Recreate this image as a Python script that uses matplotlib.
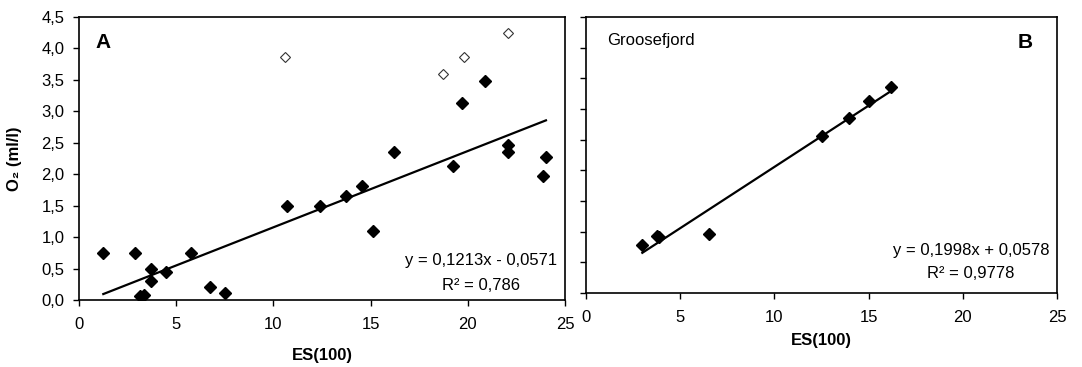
import matplotlib
matplotlib.use("Agg")
import matplotlib.pyplot as plt
import numpy as np

plt.rcParams['font.family'] = ['Liberation Sans', 'DejaVu Sans']
plt.rcParams['font.size'] = 12

# Panel A data
a_x = [1.25, 2.9, 3.69, 3.69, 3.14, 3.34, 4.48, 5.76, 6.74, 7.5,
       10.68, 12.4, 13.73, 14.56, 15.1, 16.2, 19.22, 19.72, 20.88,
       22.08, 22.08, 23.85, 24.02]
a_y = [0.74, 0.74, 0.50, 0.31, 0.06, 0.08, 0.44, 0.74, 0.20, 0.11,
       1.49, 1.49, 1.66, 1.81, 1.10, 2.36, 2.13, 3.14, 3.49,
       2.46, 2.36, 1.97, 2.28]
a_open_x = [10.6, 18.74, 19.8, 22.08]
a_open_y = [3.86, 3.59, 3.86, 4.25]
a_fit = [0.1213, -0.0571]
a_eq = "y = 0,1213x - 0,0571"
a_r2 = "R² = 0,786"

# Panel B data (Groosefjord)
b_x = [2.99, 3.75, 3.9, 6.53, 12.5, 13.97, 15.0, 16.2]
b_y = [0.78, 0.93, 0.91, 0.97, 2.56, 2.85, 3.13, 3.36]
b_fit = [0.1998, 0.0578]
b_eq = "y = 0,1998x + 0,0578"
b_r2 = "R² = 0,9778"

x_ticks = [0, 5, 10, 15, 20, 25]
y_ticks = [0.0, 0.5, 1.0, 1.5, 2.0, 2.5, 3.0, 3.5, 4.0, 4.5]
y_ticklabels = ["0,0", "0,5", "1,0", "1,5", "2,0", "2,5", "3,0", "3,5", "4,0", "4,5"]

W, H = 1082, 367
fig = plt.figure(figsize=(W / 100, H / 100), dpi=100)

def box(l, r, t, b):
    return [l / W, 1 - b / H, (r - l) / W, (b - t) / H]

axA = fig.add_axes(box(79, 565, 17, 300))
axB = fig.add_axes(box(586, 1057, 17, 293))

for ax in (axA, axB):
    ax.set_xlim(0, 25)
    ax.set_ylim(0, 4.5)
    ax.set_xticks(x_ticks)
    ax.set_yticks(y_ticks)
    ax.tick_params(direction='out', length=4.5, width=1, color='black',
                   labelsize=12, top=False, right=False)
    ax.tick_params(axis='x', pad=8)
    ax.tick_params(axis='y', pad=6)
    for s in ax.spines.values():
        s.set_linewidth(1.2)
        s.set_color('black')
    ax.set_xlabel("ES(100)", fontweight='bold', fontsize=12)

axA.set_yticklabels(y_ticklabels)
axB.set_yticklabels([])

# Panel A
axA.plot(a_x, a_y, linestyle='none', marker='D', markersize=6,
         color='black', markeredgecolor='black', zorder=3)
axA.plot(a_open_x, a_open_y, linestyle='none', marker='D', markersize=5,
         markerfacecolor='white', markeredgecolor='#333333',
         markeredgewidth=0.8, zorder=3)
xa = np.array([min(a_x), max(a_x)])
axA.plot(xa, a_fit[0] * xa + a_fit[1], color='black', linewidth=1.6, zorder=2)
axA.text((481 - 79) / 486, (300 - 260) / 283, a_eq, transform=axA.transAxes,
         ha='center', va='center', fontsize=12)
axA.text((481 - 79) / 486, (300 - 285) / 283, a_r2, transform=axA.transAxes,
         ha='center', va='center', fontsize=12)
axA.text((103 - 79) / 486, (300 - 43) / 283, "A", transform=axA.transAxes,
         ha='center', va='center', fontsize=15, fontweight='bold')
axA.set_ylabel("O₂ (ml/l)", fontweight='bold', fontsize=12)
axA.yaxis.set_label_coords((22 - 79) / 486, 0.5)
axA.xaxis.set_label_coords(0.5, (300 - 348) / 283)

# Panel B
axB.plot(b_x, b_y, linestyle='none', marker='D', markersize=6,
         color='black', zorder=3)
xb = np.array([min(b_x), max(b_x)])
axB.plot(xb, b_fit[0] * xb + b_fit[1], color='black', linewidth=1.6, zorder=2)
axB.text((971 - 586) / 471, (293 - 250) / 276, b_eq, transform=axB.transAxes,
         ha='center', va='center', fontsize=12)
axB.text((971 - 586) / 471, (293 - 274) / 276, b_r2, transform=axB.transAxes,
         ha='center', va='center', fontsize=12)
axB.text((1025 - 586) / 471, (293 - 43) / 276, "B", transform=axB.transAxes,
         ha='center', va='center', fontsize=15, fontweight='bold')
axB.text((607 - 586) / 471, (293 - 40) / 276, "Groosefjord", transform=axB.transAxes,
         ha='left', va='center', fontsize=12)
axB.xaxis.set_label_coords(0.5, (293 - 333) / 276)

fig.savefig("out.png", dpi=100)
